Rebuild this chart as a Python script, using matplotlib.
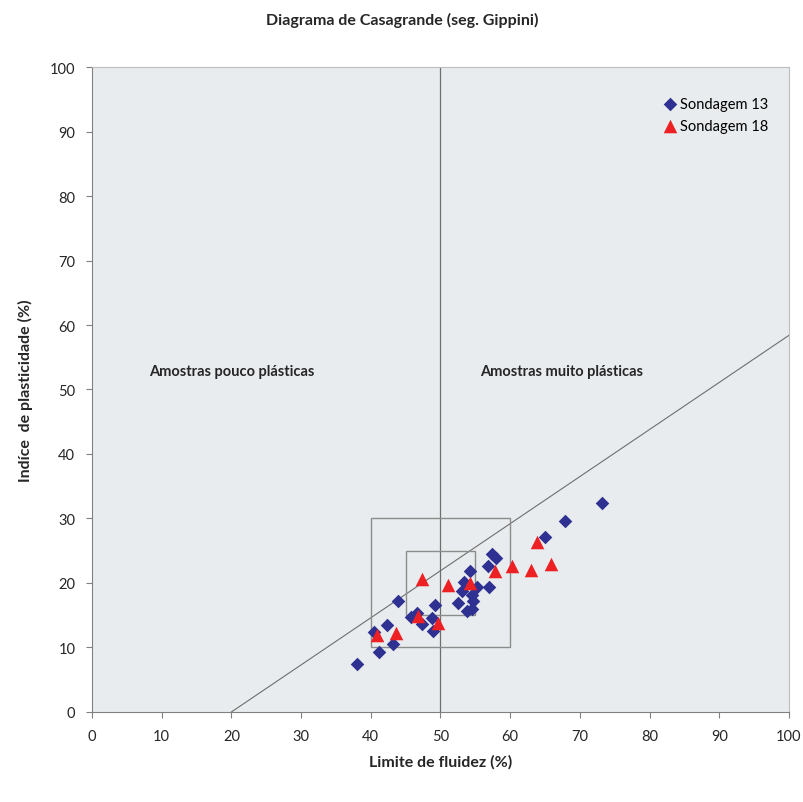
import matplotlib.pyplot as plt
from matplotlib.patches import Rectangle

plt.rcParams['font.family'] = ['Lato', 'DejaVu Sans']

# Sondagem 13 (liquid limit %, plasticity index %)
ll_13 = [38.0, 41.2, 40.5, 42.3, 43.2, 43.9, 45.8, 46.6, 47.3, 48.8, 48.9, 49.2,
         52.5, 53.1, 53.4, 54.2, 54.5, 54.7, 53.8, 54.5, 55.2, 56.8, 57.4, 58.0,
         57.0, 65.0, 67.9, 73.2]
pi_13 = [7.4, 9.3, 12.4, 13.5, 10.5, 17.2, 14.7, 15.3, 13.6, 14.6, 12.6, 16.6,
         16.9, 18.8, 20.2, 21.9, 18.1, 17.2, 15.7, 16.0, 19.4, 22.6, 24.5, 23.9,
         19.4, 27.1, 29.6, 32.4]

# Sondagem 18
ll_18 = [40.9, 43.6, 47.3, 46.8, 49.6, 51.1, 54.2, 57.8, 60.3, 63.0, 65.9, 63.8]
pi_18 = [11.9, 12.2, 20.6, 14.9, 13.8, 19.7, 20.0, 21.9, 22.6, 22.0, 22.9, 26.4]

# A-line (Casagrande): PI = 0.73 * (LL - 20)
aline_ll = [20, 100]
aline_pi = [0.73 * (v - 20) for v in aline_ll]

fig = plt.figure(figsize=(8.04, 8.03), dpi=100)
ax = fig.add_axes([0.1144, 0.1121, 0.8669, 0.8032])
ax.set_facecolor('#E9ECEE')

ax.plot(aline_ll, aline_pi, color='#6E6E6E', lw=0.8, zorder=1)
ax.axvline(50, color='#6E6E6E', lw=0.9, zorder=1)
ax.add_patch(Rectangle((40, 10), 20, 20, fill=False, ec='#8C8C8C', lw=1.0, zorder=1))
ax.add_patch(Rectangle((45, 15), 10, 10, fill=False, ec='#8C8C8C', lw=1.0, zorder=1))

ax.scatter(ll_13, pi_13, marker='D', s=48, color='#2E3192', lw=0, zorder=3,
           label='Sondagem 13')
ax.scatter(ll_18, pi_18, marker='^', s=95, color='#ED2024', lw=0, zorder=4,
           label='Sondagem 18')

ax.text(20.1, 52.9, 'Amostras pouco plásticas', fontsize=10.5, fontweight='bold',
        color='#262626', ha='center', va='center')
ax.text(67.4, 52.9, 'Amostras muito plásticas', fontsize=10.5, fontweight='bold',
        color='#262626', ha='center', va='center')

ax.set_xlim(0, 100)
ax.set_ylim(0, 100)
ax.set_xticks(range(0, 101, 10))
ax.set_yticks(range(0, 101, 10))
ax.tick_params(direction='out', length=4, color='#808080', labelsize=10.5,
               labelcolor='#262626', pad=8)
for side in ['left', 'bottom']:
    ax.spines[side].set_color('#808080')
for side in ['top', 'right']:
    ax.spines[side].set_color('#BDBDBD')

ax.set_xlabel('Limite de fluidez (%)', fontsize=11.5, fontweight='bold',
              color='#262626', labelpad=8)
ax.set_ylabel('Indíce  de plasticidade (%)', fontsize=11.5, fontweight='bold',
              color='#262626', labelpad=12)
fig.text(0.5, 0.975, 'Diagrama de Casagrande (seg. Gippini)', fontsize=11.5,
         fontweight='bold', color='#262626', ha='center', va='center')

ax.legend(loc='upper right', bbox_to_anchor=(0.985, 0.97), frameon=False,
          fontsize=10.5, handletextpad=-0.3, labelspacing=0.6, borderaxespad=0.3)

fig.savefig('out.png', dpi=100)
